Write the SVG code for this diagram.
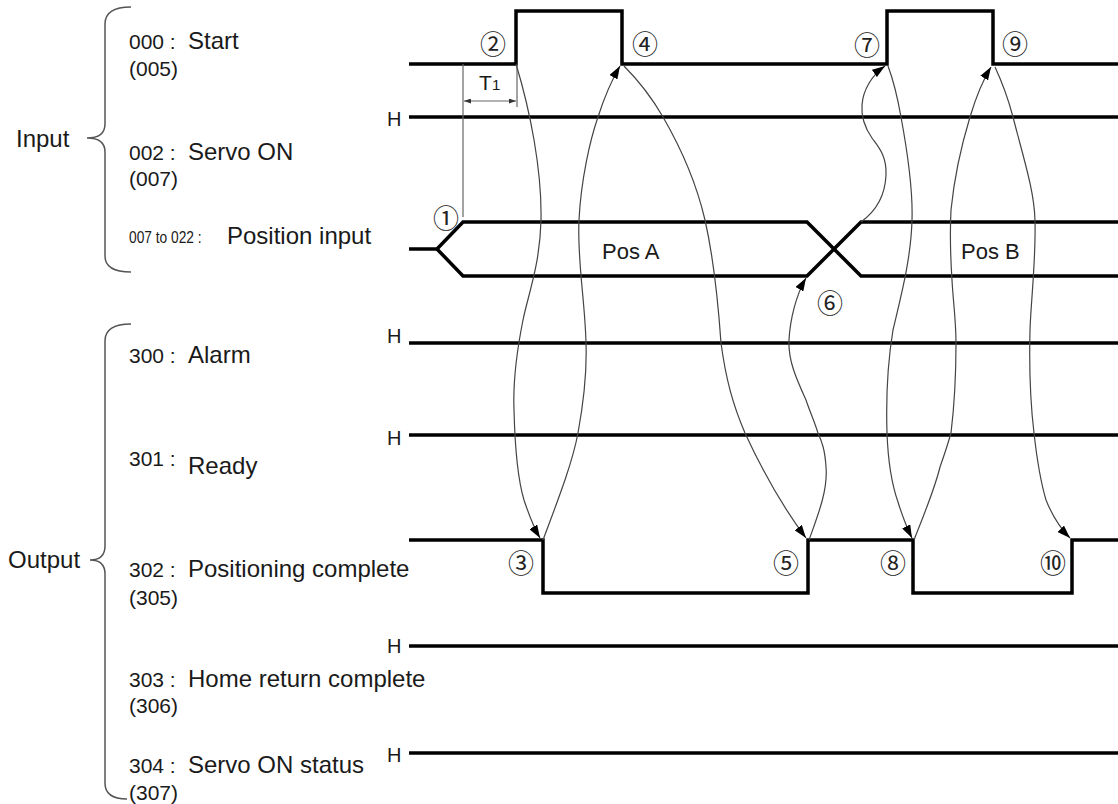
<svg xmlns="http://www.w3.org/2000/svg" width="1118" height="804" viewBox="0 0 1118 804">
<style>
.lbl{font-family:"Liberation Sans",Arial,sans-serif;font-size:24px;fill:#1a1a1a}
.num{font-family:"Liberation Sans",Arial,sans-serif;font-size:21px;fill:#1a1a1a}
.h{font-family:"Liberation Sans",Arial,sans-serif;font-size:20px;fill:#1a1a1a}
.pos{font-family:"Liberation Sans",Arial,sans-serif;font-size:22px;fill:#1a1a1a}
.cn{font-family:"Noto Sans CJK JP","DejaVu Sans",sans-serif;font-size:26px;fill:#222;text-anchor:middle;dominant-baseline:central}
.sig{fill:none;stroke:#000;stroke-width:3.5;stroke-linejoin:miter}
.brace{fill:none;stroke:#555;stroke-width:1.5}
.thin{fill:none;stroke:#666;stroke-width:1.2}
.arc{fill:none;stroke:#444;stroke-width:1.2;marker-end:url(#ah)}
</style>
<defs>
<marker id="ah" markerUnits="userSpaceOnUse" markerWidth="13" markerHeight="9" refX="13" refY="4.5" orient="auto">
<path d="M0,0 L13,4.5 L0,9 z" fill="#000"/>
</marker>
<marker id="sa" markerUnits="userSpaceOnUse" markerWidth="7" markerHeight="5" refX="7" refY="2.5" orient="auto-start-reverse">
<path d="M0,0 L7,2.5 L0,5 z" fill="#333"/>
</marker>
</defs>
<rect width="1118" height="804" fill="#fff"/>

<g id="input-group">
<path class="brace" d="M131,7 Q105,7 105,24 L105,124 Q105,138 87,138 Q105,138 105,152 L105,256 Q105,272 131,272"/>
<text class="lbl" x="16" y="147">Input</text>
</g>

<g id="start">
<text class="num" x="129" y="49">000 :</text>
<text class="lbl" x="188" y="49">Start</text>
<text class="num" x="129" y="76">(005)</text>
<path class="sig" d="M409,64 H516 V11 H622 V64 H887 V11 H993 V64 H1118"/>
</g>

<g id="servo-on">
<text class="num" x="129" y="160">002 :</text>
<text class="lbl" x="188" y="160">Servo ON</text>
<text class="num" x="129" y="186">(007)</text>
<text class="h" x="387" y="126">H</text>
<path class="sig" d="M409,117 H1118"/>
</g>

<g id="position-input">
<text class="num" transform="translate(129,243) scale(0.81,1)" x="0" y="0" style="font-size:17px">007 to 022 :</text>
<text class="lbl" x="227" y="244">Position input</text>
<path class="sig" d="M409,249 H437 L463,222 H807 L861,276 H1118"/>
<path class="sig" d="M437,249 L463,276 H807 L861,222 H1118"/>
<text class="pos" x="602" y="259">Pos A</text>
<text class="pos" x="961" y="259">Pos B</text>
</g>

<g id="output-group">
<path class="brace" d="M131,324 Q105,324 105,341 L105,546 Q105,560 90,560 Q105,560 105,574 L105,783 Q105,799 127,799"/>
<text class="lbl" x="8" y="568">Output</text>
</g>

<g id="alarm">
<text class="num" x="129" y="363">300 :</text>
<text class="lbl" x="188" y="363">Alarm</text>
<text class="h" x="387" y="343">H</text>
<path class="sig" d="M409,343 H1118"/>
</g>

<g id="ready">
<text class="num" x="129" y="466">301 :</text>
<text class="lbl" x="188" y="474">Ready</text>
<text class="h" x="387" y="445">H</text>
<path class="sig" d="M409,435 H1118"/>
</g>

<g id="positioning-complete">
<text class="num" x="129" y="577">302 :</text>
<text class="lbl" x="188" y="577">Positioning complete</text>
<text class="num" x="129" y="605">(305)</text>
<path class="sig" d="M409,540 H543 V593 H808 V540 H913 V593 H1072 V540 H1118"/>
</g>

<g id="home-return">
<text class="num" x="129" y="687">303 :</text>
<text class="lbl" x="188" y="687">Home return complete</text>
<text class="num" x="129" y="713">(306)</text>
<text class="h" x="387" y="653">H</text>
<path class="sig" d="M409,646 H1118"/>
</g>

<g id="servo-on-status">
<text class="num" x="129" y="773">304 :</text>
<text class="lbl" x="188" y="773">Servo ON status</text>
<text class="num" x="129" y="800">(307)</text>
<text class="h" x="387" y="762">H</text>
<path class="sig" d="M409,753 H1118"/>
</g>

<g id="t1">
<path class="thin" d="M463,64 V217"/>
<path class="thin" d="M517,66 V107"/>
<path class="thin" d="M464,101 H516" marker-start="url(#sa)" marker-end="url(#sa)"/>
<text class="num" x="479" y="90">T</text>
<text class="num" x="492" y="90" style="font-size:15px">1</text>
</g>

<g id="markers">
<text class="cn" x="446" y="216">①</text>
<text class="cn" x="493" y="42">②</text>
<text class="cn" x="521" y="561">③</text>
<text class="cn" x="645" y="42">④</text>
<text class="cn" x="786" y="561">⑤</text>
<text class="cn" x="830" y="301">⑥</text>
<text class="cn" x="867" y="43">⑦</text>
<text class="cn" x="893" y="561">⑧</text>
<text class="cn" x="1015" y="42">⑨</text>
<text class="cn" x="1053" y="561">⑩</text>
</g>

<g id="connectors">
<path class="arc" d="M516,64 C530,110 542,170 541,220 C540,265 528,295 523,320 C517,350 513,385 514,410 C515,450 518,480 524,500 C529,515 534,528 540,538"/>
<path class="arc" d="M543,540 C556,505 572,465 578,433 C584,400 587,370 586,343 C585,300 577,260 579,220 C581,180 590,140 598,117 C605,95 613,78 620,66"/>
<path class="arc" d="M624,66 C640,82 652,98 663,117 C685,155 698,190 705,220 C714,260 718,300 721,343 C726,380 733,405 745,433 C762,470 785,510 806,538"/>
<path class="arc" d="M809,540 C818,515 828,490 826,467 C825,450 822,442 818,433 C814,420 810,412 806,400 C796,378 788,360 789,340 C790,320 796,295 806,278"/>
<path class="arc" d="M861,222 C872,214 885,200 886,175 C887,155 877,145 872,138 C865,128 861,118 862,105 C863,90 872,75 885,66"/>
<path class="arc" d="M888,66 C894,82 898,100 901,117 C908,155 913,190 912,220 C911,260 900,300 893,330 C888,360 886,400 887,433 C888,460 892,485 898,502 C903,518 907,528 912,538"/>
<path class="arc" d="M914,540 C925,512 935,488 940,467 C946,450 949,440 951,433 C955,400 956,370 956,343 C956,320 953,300 952,280 C950,250 950,230 951,210 C955,170 963,140 970,117 C976,97 983,80 991,67"/>
<path class="arc" d="M995,67 C1002,82 1008,98 1013,117 C1024,160 1034,190 1035,220 C1036,260 1031,300 1030,330 C1029,370 1030,400 1034,433 C1037,460 1041,483 1046,500 C1052,515 1060,528 1070,538"/>
</g>
</svg>
